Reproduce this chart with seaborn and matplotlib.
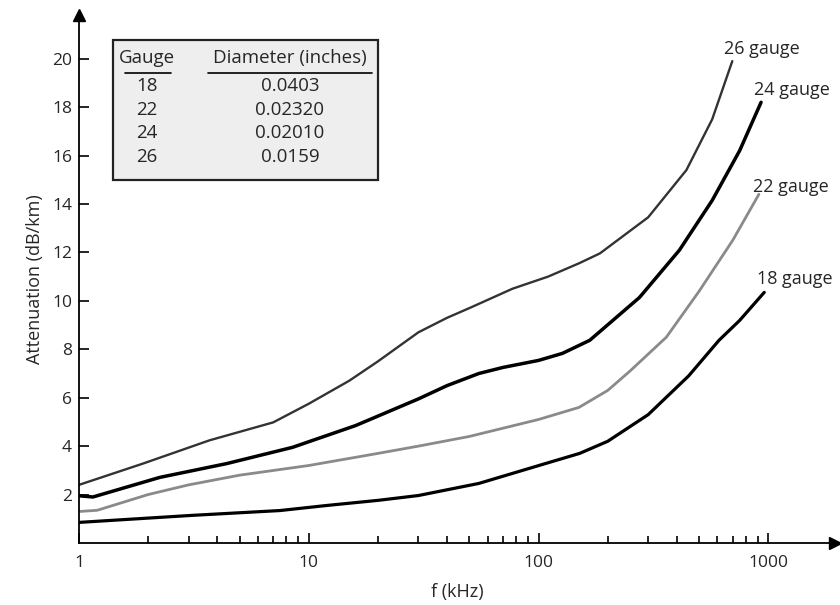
import matplotlib
matplotlib.use("Agg")
import matplotlib.pyplot as plt
import numpy as np
import pandas as pd
import seaborn as sns
from matplotlib.patches import Rectangle

# values (f in kHz, attenuation in dB/km)
f_26 = [1, 1.9, 3.7, 7.0, 10, 15, 20, 30, 40, 50, 77, 110, 150, 185, 300, 440, 570, 697]
att_26 = [2.4, 3.28, 4.24, 4.98, 5.75, 6.7, 7.5, 8.7, 9.3, 9.7, 10.5, 11.0, 11.55, 11.96, 13.45, 15.4, 17.5, 19.9]

f_24 = [1, 1.15, 2.25, 4.4, 8.5, 16, 30, 40, 55, 70, 100, 127, 167, 275, 410, 570, 750, 930]
att_24 = [1.95, 1.9, 2.71, 3.28, 3.95, 4.85, 5.95, 6.5, 7.0, 7.25, 7.54, 7.83, 8.37, 10.14, 12.09, 14.15, 16.2, 18.2]

f_22 = [1, 1.2, 2, 3, 5, 10, 20, 30, 50, 100, 150, 200, 250, 360, 500, 700, 910]
att_22 = [1.3, 1.35, 2.0, 2.4, 2.8, 3.2, 3.7, 4.0, 4.4, 5.1, 5.6, 6.3, 7.1, 8.5, 10.4, 12.5, 14.4]

f_18 = [1, 3.1, 7.5, 12, 20, 30, 55, 108, 151, 200, 300, 450, 610, 750, 960]
att_18 = [0.85, 1.14, 1.34, 1.55, 1.76, 1.96, 2.46, 3.29, 3.7, 4.2, 5.3, 6.9, 8.37, 9.19, 10.35]

gauges = ["18", "22", "24", "26"]
diameters = ["0.0403", "0.02320", "0.02010", "0.0159"]

sns.set_style("ticks")
plt.rcParams["font.family"] = ["Open Sans", "DejaVu Sans"]

fig = plt.figure(figsize=(8.4, 6.05), dpi=100)
ax = fig.add_axes([0.094, 0.1025, 0.90, 0.8725])

curves = [
    (f_26, att_26, "#333333", 1.7),
    (f_24, att_24, "black", 2.5),
    (f_22, att_22, "#8a8a8a", 2.0),
    (f_18, att_18, "black", 2.3),
]
for fx, ay, col, lw in curves:
    d = pd.DataFrame({"f": fx, "att": ay})
    sns.lineplot(data=d, x="f", y="att", color=col, linewidth=lw, ax=ax)

ax.set_xscale("log")
ax.set_xlim(1, 1950)
ax.set_ylim(0, 21.8)
ax.set_yticks(range(2, 21, 2))
ax.set_xticks([1, 10, 100, 1000])
ax.set_xticklabels(["1", "10", "100", "1000"])
ax.tick_params(axis="both", which="major", direction="in", length=7, width=1.2, labelsize=12.5, color="black")
ax.tick_params(axis="x", which="minor", direction="in", length=5, width=1.2, color="black")
ax.tick_params(axis="x", pad=9)
ax.tick_params(axis="y", pad=5)
ax.set_xlabel("f (kHz)", fontsize=13, labelpad=8)
ax.set_ylabel("Attenuation (dB/km)", fontsize=13, labelpad=6)
sns.despine(ax=ax)
for s in ("left", "bottom"):
    ax.spines[s].set_linewidth(1.3)
    ax.spines[s].set_color("black")

# arrow heads on the axes
ax.plot(1, 0, ">", color="black", markersize=8, transform=ax.transAxes, clip_on=False)
ax.plot(0, 1, "^", color="black", markersize=8, transform=ax.transAxes, clip_on=False)

# curve labels
labels = [("26 gauge", 933, 20.2), ("24 gauge", 1265, 18.5), ("22 gauge", 1250, 14.5), ("18 gauge", 1300, 10.7)]
for txt, lx, ly in labels:
    ax.text(lx, ly, txt, fontsize=13, ha="center", va="baseline")

# gauge / diameter table
ax.add_patch(Rectangle((0.045, 0.6875), 0.35, 0.2655, transform=ax.transAxes,
                       facecolor="#eeeeee", edgecolor="#222222", linewidth=1.6, zorder=3))
ax.text(0.09, 0.918, "Gauge", transform=ax.transAxes, ha="center", va="center", fontsize=13.5, zorder=4)
ax.text(0.279, 0.918, "Diameter (inches)", transform=ax.transAxes, ha="center", va="center", fontsize=13.5, zorder=4)
ax.plot([0.061, 0.122], [0.891, 0.891], color="black", lw=1.2, transform=ax.transAxes, zorder=4)
ax.plot([0.171, 0.387], [0.891, 0.891], color="black", lw=1.2, transform=ax.transAxes, zorder=4)
row_y = [0.866, 0.821, 0.776, 0.731]
for g, dia, yy in zip(gauges, diameters, row_y):
    ax.text(0.09, yy, g, transform=ax.transAxes, ha="center", va="center", fontsize=13.5, zorder=4)
    ax.text(0.279, yy, dia, transform=ax.transAxes, ha="center", va="center", fontsize=13.5, zorder=4)

fig.savefig("out.png", dpi=100)
